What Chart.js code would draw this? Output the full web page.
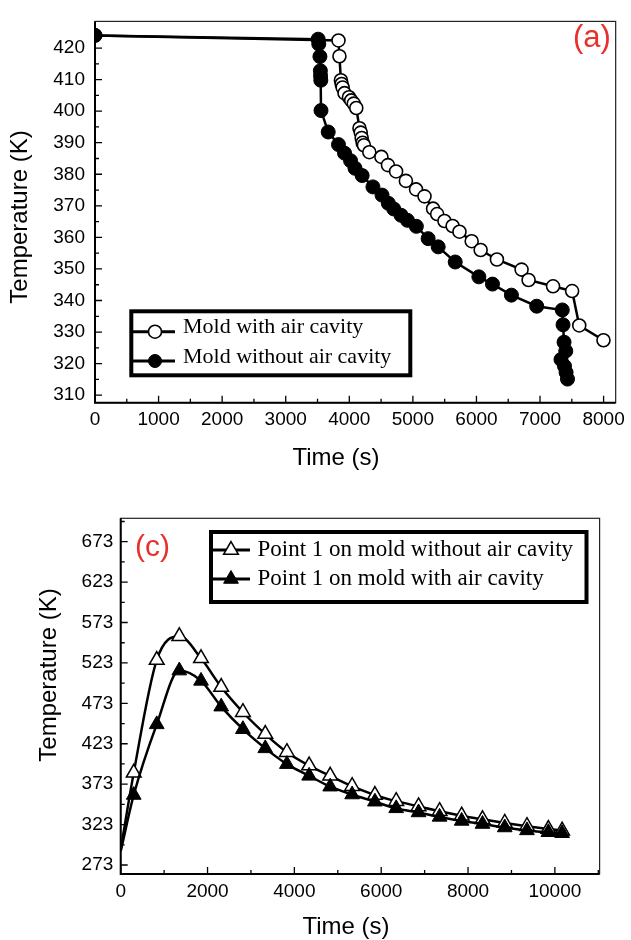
<!DOCTYPE html>
<html>
<head>
<meta charset="utf-8">
<title>Mold temperature</title>
<script src="https://cdn.jsdelivr.net/npm/chart.js@4.4.1/dist/chart.umd.min.js"></script>
<style>
  html, body { margin: 0; padding: 0; background: #fff; }
  .panel { position: absolute; left: 0; width: 631px; height: 470px; }
</style>
</head>
<body>
<div class="panel" style="top:0"><canvas id="chartA" width="631" height="470"></canvas></div>
<div class="panel" style="top:470px"><canvas id="chartC" width="631" height="470"></canvas></div>
<script>
// ---------- panel (a) ----------
const timeOpenA = [0, 3830, 3845, 3868, 3880, 3895, 3925, 3995, 4030, 4070, 4110, 4160, 4180, 4195, 4210, 4230,
  4315, 4505, 4608, 4736, 4890, 5050, 5183, 5318, 5382, 5497, 5625, 5733, 5925, 6066, 6322, 6710, 6820, 7205,
  7505, 7617, 7998];
const tempOpenA = [424, 422.4, 417.4, 409.8, 408.6, 407.5, 405.7, 404.4, 403.4, 402.4, 401.0, 394.6, 393.2, 391.5,
  390.0, 389.2, 387.0, 385.5, 382.9, 380.9, 377.9, 375.2, 373.0, 369.1, 367.4, 365.2, 363.6, 361.8, 358.8, 356.0,
  353.0, 349.8, 346.5, 344.5, 343.0, 332.1, 327.4];
const timeFilledA = [0, 3510, 3520, 3538, 3545, 3548, 3552, 3555, 3668, 3830, 3925, 4020, 4090, 4202, 4372, 4515,
  4614, 4700, 4815, 4915, 5055, 5240, 5398, 5666, 6038, 6252, 6550, 6948, 7350, 7362, 7378, 7405, 7330, 7385,
  7410, 7432];
const tempFilledA = [424, 422.8, 421.3, 417.3, 412.8, 411.2, 409.8, 400.2, 393.4, 389.4, 386.7, 384.3, 381.9, 379.6,
  376.0, 373.4, 370.8, 369.0, 367.0, 365.4, 363.5, 359.6, 357.0, 352.2, 347.5, 345.2, 341.7, 338.2, 337.0, 332.3,
  326.8, 324.0, 321.3, 319.2, 317.2, 315.1];
const xTicksA = [0, 1000, 2000, 3000, 4000, 5000, 6000, 7000, 8000];
const yTicksA = [310, 320, 330, 340, 350, 360, 370, 380, 390, 400, 410, 420];

// ---------- panel (c) ----------
const timeC = [0, 300, 830, 1350, 1850, 2315, 2815, 3330, 3828, 4340, 4825, 5330, 5855, 6345, 6860, 7345, 7853,
  8333, 8845, 9357, 9850, 10166];
const tempNoCavityC = [292, 387, 526.6, 556, 528.7, 493.2, 462, 435, 412.6, 396, 383.3, 370.5, 359.5, 352, 345.5,
  339.5, 334, 329.5, 325, 321, 317.5, 315.5];
const tempCavityC = [290, 359.6, 447, 513.5, 500.8, 468.9, 441, 417.3, 397.8, 383.3, 369.9, 360.2, 351.3, 343.1,
  338, 332.5, 327.5, 323.7, 319.4, 315.8, 313.5, 312.3];
const xTicksC = [0, 2000, 4000, 6000, 8000, 10000];
const yTicksC = [273, 323, 373, 423, 473, 523, 573, 623, 673];

const toPoints = (xs, ys) => xs.map((x, i) => ({ x, y: ys[i] }));
const fixedTicks = values => scale => { scale.ticks = values.map(v => ({ value: v })); };

const tickFont = { family: '"Liberation Sans", Arial, sans-serif', size: 19 };

// frame, inward ticks, titles, panel letter and boxed legend
const paperPlugin = {
  id: 'paper',
  afterDatasetsDraw(chart, args, o) {
    const { ctx, chartArea: a } = chart;
    const xs = chart.scales.x, ys = chart.scales.y;
    ctx.save();
    ctx.strokeStyle = '#000';
    ctx.lineWidth = 1.3;
    ctx.beginPath();
    const n1 = Math.round((o.xMinor[1] - o.xMinor[0]) / o.xMinor[2]);
    for (let i = 0; i <= n1; i++) {
      const px = xs.getPixelForValue(o.xMinor[0] + i * o.xMinor[2]);
      ctx.moveTo(px, a.bottom); ctx.lineTo(px, a.bottom - 4);
    }
    xs.ticks.forEach(t => {
      const px = xs.getPixelForValue(t.value);
      ctx.moveTo(px, a.bottom); ctx.lineTo(px, a.bottom - 7);
    });
    const n2 = Math.round((o.yMinor[1] - o.yMinor[0]) / o.yMinor[2]);
    for (let i = 0; i <= n2; i++) {
      const py = ys.getPixelForValue(o.yMinor[0] + i * o.yMinor[2]);
      ctx.moveTo(a.left, py); ctx.lineTo(a.left + 4, py);
    }
    ys.ticks.forEach(t => {
      const py = ys.getPixelForValue(t.value);
      ctx.moveTo(a.left, py); ctx.lineTo(a.left + 7, py);
    });
    ctx.stroke();

    ctx.lineWidth = 1.2;
    ctx.strokeStyle = '#222';
    ctx.strokeRect(a.left, a.top, a.right - a.left, a.bottom - a.top);
    ctx.strokeStyle = '#000';
    ctx.lineWidth = 2;
    ctx.beginPath();
    ctx.moveTo(a.left, a.top); ctx.lineTo(a.left, a.bottom); ctx.lineTo(a.right, a.bottom);
    ctx.stroke();

    // titles
    ctx.fillStyle = '#000';
    ctx.font = '24px "Liberation Sans", Arial, sans-serif';
    ctx.textAlign = 'center';
    ctx.textBaseline = 'alphabetic';
    ctx.fillText(o.xTitle.text, o.xTitle.x, o.xTitle.y);
    ctx.save();
    ctx.translate(o.yTitle.x, o.yTitle.y);
    ctx.rotate(-Math.PI / 2);
    ctx.textBaseline = 'middle';
    ctx.fillText(o.yTitle.text, 0, 0);
    ctx.restore();

    // panel letter
    ctx.fillStyle = '#e8312c';
    ctx.font = o.panel.size + 'px "Liberation Sans", Arial, sans-serif';
    ctx.textAlign = 'left';
    ctx.fillText(o.panel.text, o.panel.x, o.panel.y);

    // legend
    const L = o.legend;
    ctx.fillStyle = '#fff';
    ctx.fillRect(L.box[0], L.box[1], L.box[2], L.box[3]);
    ctx.lineWidth = 4;
    ctx.strokeStyle = '#000';
    ctx.strokeRect(L.box[0], L.box[1], L.box[2], L.box[3]);
    chart.data.datasets.forEach((ds, i) => {
      const y = L.rows[i];
      ctx.lineWidth = 3;
      ctx.beginPath();
      ctx.moveTo(L.box[0], y); ctx.lineTo(L.lineTo, y);
      ctx.stroke();
      ctx.save();
      ctx.fillStyle = ds.pointBackgroundColor;
      ctx.strokeStyle = ds.pointBorderColor;
      ctx.lineWidth = ds.pointBorderWidth;
      Chart.helpers.drawPoint(ctx, { pointStyle: ds.pointStyle, radius: L.radius, rotation: 0,
        borderWidth: ds.pointBorderWidth }, L.markerX, y);
      ctx.restore();
      ctx.fillStyle = '#000';
      ctx.font = L.font;
      ctx.textAlign = 'left';
      ctx.textBaseline = 'alphabetic';
      ctx.fillText(ds.label, L.textX, y + L.textDy);
    });
    ctx.restore();
  }
};

function axisOptions(xMax, yMin, yMax, xTicks, yTicks, yWidth, xHeight, yPad) {
  return {
    x: {
      type: 'linear', min: 0, max: xMax,
      afterBuildTicks: fixedTicks(xTicks),
      afterFit: s => { s.height = xHeight; },
      grid: { display: false, drawTicks: false },
      border: { display: false },
      ticks: { font: tickFont, color: '#000', padding: 6, maxRotation: 0, autoSkip: false, callback: v => String(v) }
    },
    y: {
      type: 'linear', min: yMin, max: yMax,
      afterBuildTicks: fixedTicks(yTicks),
      afterFit: s => { s.width = yWidth; },
      grid: { display: false, drawTicks: false },
      border: { display: false },
      ticks: { font: tickFont, color: '#000', padding: yPad, autoSkip: false, callback: v => String(v) }
    }
  };
}

// ---------- chart (a) ----------
new Chart(document.getElementById('chartA'), {
  type: 'line',
  data: {
    datasets: [
      {
        label: 'Mold with air cavity',
        data: toPoints(timeOpenA, tempOpenA),
        borderColor: '#000', borderWidth: 2.5, tension: 0,
        pointStyle: 'circle', pointRadius: 6.5,
        pointBackgroundColor: '#fff', pointBorderColor: '#000', pointBorderWidth: 1.6,
        order: 1
      },
      {
        label: 'Mold without air cavity',
        data: toPoints(timeFilledA, tempFilledA),
        borderColor: '#000', borderWidth: 2.5, tension: 0,
        pointStyle: 'circle', pointRadius: 7,
        pointBackgroundColor: '#000', pointBorderColor: '#000', pointBorderWidth: 1,
        order: 0
      }
    ]
  },
  options: {
    responsive: false,
    animation: false,
    layout: { padding: { left: 0, top: 12, right: 11.7, bottom: 0 } },
    scales: axisOptions(8190, 307.62, 428.44, xTicksA, yTicksA, 95, 67.3, 10),
    plugins: {
      legend: { display: false },
      tooltip: { enabled: false },
      paper: {
        xMinor: [0, 8000, 500],
        yMinor: [310, 425, 5],
        xTitle: { text: 'Time (s)', x: 336, y: 465 },
        yTitle: { text: 'Temperature (K)', x: 20, y: 217 },
        panel: { text: '(a)', x: 573, y: 47, size: 31 },
        legend: {
          box: [131.3, 311.3, 279, 64], rows: [331.7, 361], lineTo: 175, markerX: 155,
          radius: 6.5, textX: 183, textDy: 1.5, font: '22px "Liberation Serif", "Times New Roman", serif'
        }
      }
    }
  },
  plugins: [paperPlugin]
});

// ---------- chart (c) ----------
new Chart(document.getElementById('chartC'), {
  type: 'line',
  data: {
    datasets: [
      {
        label: 'Point 1 on mold without air cavity',
        data: toPoints(timeC, tempNoCavityC),
        borderColor: '#000', borderWidth: 2.5, cubicInterpolationMode: 'monotone',
        pointStyle: 'triangle', pointRadius: ctx => (ctx.dataIndex === 0 ? 0 : 8.5),
        pointBackgroundColor: '#fff', pointBorderColor: '#000', pointBorderWidth: 1.5,
        order: 1
      },
      {
        label: 'Point 1 on mold with air cavity',
        data: toPoints(timeC, tempCavityC),
        borderColor: '#000', borderWidth: 2.5, cubicInterpolationMode: 'monotone',
        pointStyle: 'triangle', pointRadius: ctx => (ctx.dataIndex === 0 ? 0 : 8.5),
        pointBackgroundColor: '#000', pointBorderColor: '#000', pointBorderWidth: 1,
        order: 0
      }
    ]
  },
  options: {
    responsive: false,
    animation: false,
    layout: { padding: { left: 0, top: 48.3, right: 31.4, bottom: 0 } },
    scales: axisOptions(11030, 261.86, 701.95, xTicksC, yTicksC, 120.7, 66, 7.4),
    plugins: {
      legend: { display: false },
      tooltip: { enabled: false },
      paper: {
        xMinor: [0, 11000, 1000],
        yMinor: [273, 698, 25],
        xTitle: { text: 'Time (s)', x: 346, y: 464 },
        yTitle: { text: 'Temperature (K)', x: 49, y: 205 },
        panel: { text: '(c)', x: 135, y: 85.5, size: 30 },
        legend: {
          box: [211, 62, 375.5, 70], rows: [80, 109], lineTo: 250, markerX: 231,
          radius: 8.5, textX: 257.5, textDy: 6, font: '23px "Liberation Serif", "Times New Roman", serif'
        }
      }
    }
  },
  plugins: [paperPlugin]
});
</script>
</body>
</html>
